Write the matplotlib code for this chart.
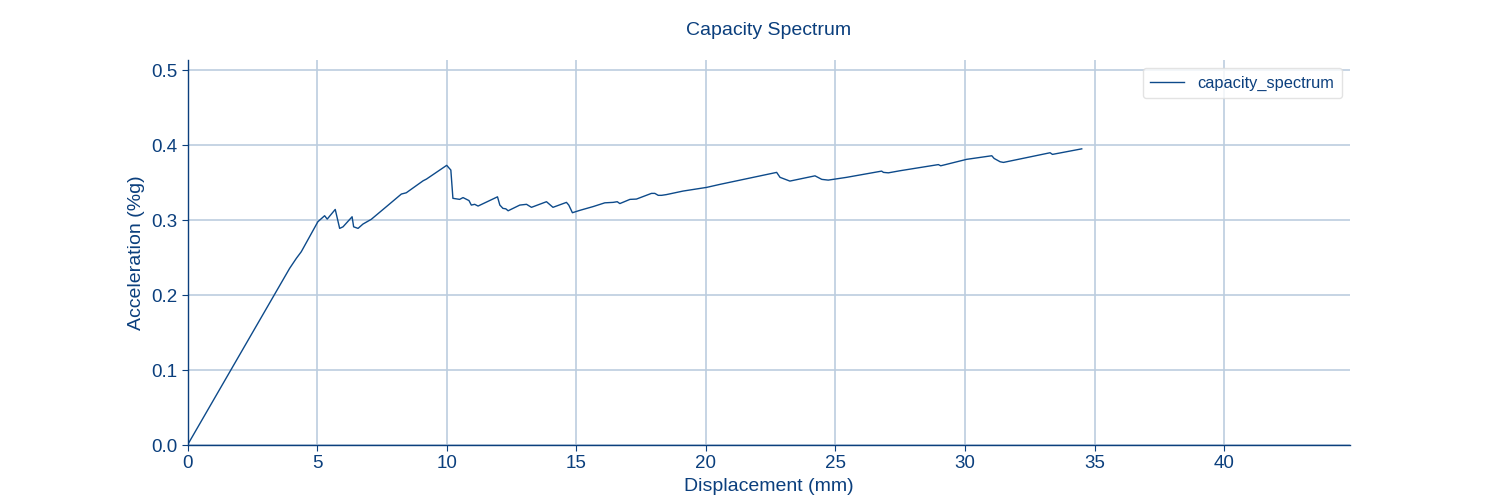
import matplotlib
matplotlib.use("Agg")
import matplotlib.pyplot as plt

displacement = [0.0, 3.94, 4.2, 4.39, 5.03, 5.29, 5.39, 5.70, 5.87, 6.0, 6.35, 6.41, 6.58, 6.77,
                7.09, 7.67, 8.25, 8.44, 9.09, 9.22, 10.0, 10.16, 10.24, 10.5, 10.63, 10.86, 10.95,
                11.08, 11.21, 11.96, 12.05, 12.17, 12.28, 12.37, 12.82, 13.08, 13.27, 13.85, 14.1,
                14.62, 14.71, 14.85, 15.14, 15.65, 16.1, 16.42, 16.58, 16.68, 17.07, 17.32, 17.9,
                18.03, 18.16, 18.29, 18.48, 19.12, 20.03, 20.54, 22.73, 22.86, 23.24, 24.21, 24.47,
                24.72, 25.43, 26.78, 26.85, 27.04, 27.49, 28.97, 29.06, 30.06, 31.03, 31.12, 31.35,
                31.48, 33.28, 33.37, 34.5]
acceleration = [0.0, 0.2356, 0.249, 0.2578, 0.2978, 0.3058, 0.3013, 0.3142, 0.2889, 0.291, 0.3044,
                0.291, 0.2889, 0.2947, 0.301, 0.3178, 0.3347, 0.3364, 0.3524, 0.3547, 0.373, 0.3667,
                0.329, 0.3276, 0.330, 0.326, 0.320, 0.321, 0.3187, 0.331, 0.320, 0.3156, 0.315,
                0.3124, 0.320, 0.321, 0.317, 0.3245, 0.317, 0.3236, 0.320, 0.3098, 0.313, 0.318,
                0.323, 0.3236, 0.3245, 0.322, 0.3276, 0.328, 0.3356, 0.3356, 0.333, 0.333, 0.334,
                0.3387, 0.3436, 0.3476, 0.3636, 0.357, 0.352, 0.359, 0.3543, 0.3533, 0.357, 0.3653,
                0.3636, 0.363, 0.3658, 0.374, 0.3724, 0.381, 0.3858, 0.3822, 0.3778, 0.3769, 0.3898,
                0.3876, 0.395]

title = "Capacity Spectrum"
xlabel = "Displacement (mm)"
ylabel = "Acceleration (%g)"
series_name = "capacity_spectrum"

plt.rcParams['font.family'] = ['Liberation Sans', 'DejaVu Sans']
text_color = '#0b3f7d'
line_color = '#0d4a8a'
grid_color = '#bccddf'

fig = plt.figure(figsize=(15, 5), dpi=100)
ax = fig.add_axes([0.125, 0.11, 0.775, 0.77])
ax.plot(displacement, acceleration, color=line_color, lw=1.0, label=series_name)

ax.set_xlim(0, max(displacement) * 1.3)
ax.set_ylim(0, max(acceleration) * 1.3)
ax.set_xticks([0, 5, 10, 15, 20, 25, 30, 35, 40])
ax.set_yticks([0.0, 0.1, 0.2, 0.3, 0.4, 0.5])
ax.yaxis.set_major_formatter(matplotlib.ticker.FormatStrFormatter('%.1f'))

ax.grid(True, color=grid_color, lw=1.2)
ax.set_axisbelow(True)
for s in ['top', 'right']:
    ax.spines[s].set_visible(False)
for s in ['left', 'bottom']:
    ax.spines[s].set_color(text_color)
    ax.spines[s].set_linewidth(1.0)
ax.tick_params(colors=text_color, labelsize=13.5, length=4)

ax.set_xlabel(xlabel, fontsize=14, color=text_color, labelpad=4)
ax.set_ylabel(ylabel, fontsize=14, color=text_color, labelpad=4)
ax.set_title(title, fontsize=14, color=text_color, pad=18)

leg = ax.legend(loc='upper right', fontsize=11.8, frameon=True, fancybox=True,
                borderpad=0.45, handlelength=2.1)
leg.get_frame().set_edgecolor('#dddddd')
for t in leg.get_texts():
    t.set_color(text_color)

fig.savefig('out.png', dpi=100)
